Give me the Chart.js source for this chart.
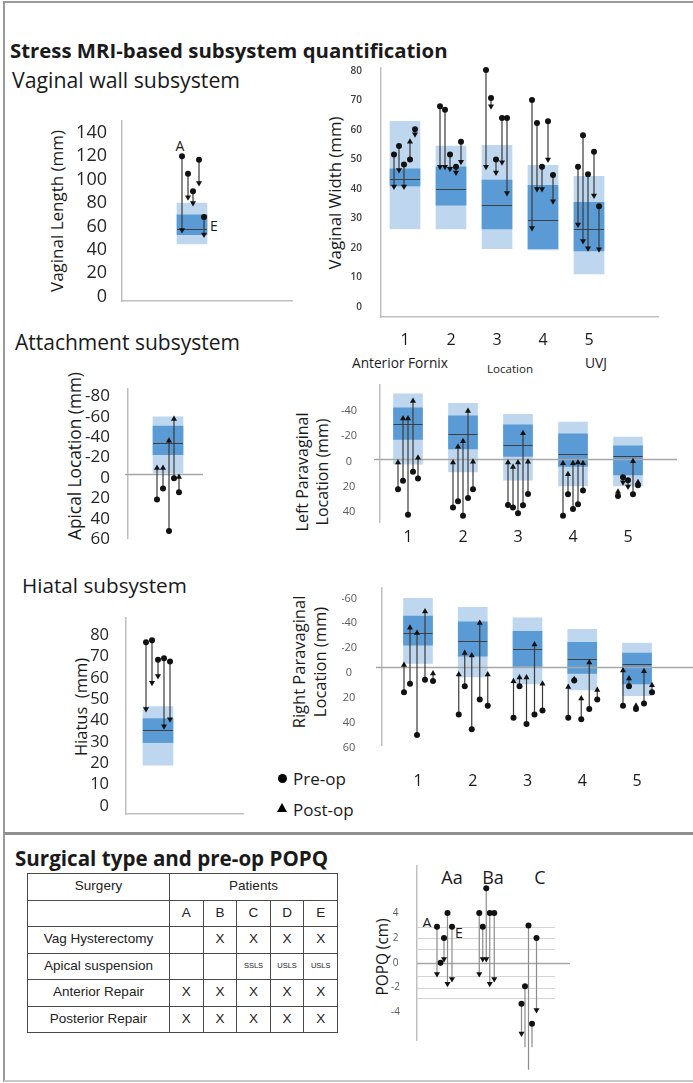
<!DOCTYPE html>
<html lang="en">
<head>
<meta charset="utf-8">
<title>Stress MRI-based subsystem quantification</title>
<script src="https://cdn.jsdelivr.net/npm/chart.js@4.4.1/dist/chart.umd.min.js"></script>
<style>
  html, body { margin: 0; padding: 0; }
  body { position: relative; width: 693px; height: 1083px; overflow: hidden; background: #fff; font-family: "Open Sans", sans-serif; color: #1a1a1a; }
  .panel { position: absolute; }
  .t { position: absolute; white-space: nowrap; transform: translateY(-50%); line-height: 1; }
  .c { position: absolute; white-space: nowrap; transform: translate(-50%, -50%); line-height: 1; }
  .v { position: absolute; white-space: nowrap; text-align: center; transform: translate(-50%, -50%) rotate(-90deg); line-height: 1.25; }
  .b { font-weight: 700; }
  .rule { position: absolute; }
  #surgery { position: absolute; left: 27px; top: 873px; width: 311px; height: 160px; border-collapse: collapse; table-layout: fixed; font-family: "Liberation Sans", Arial, sans-serif; font-size: 13.5px; color: #222; }
  #surgery td { border: 1.5px solid #4a4a4a; text-align: center; vertical-align: middle; padding: 0 0 2px 0; }
  #surgery td.s { font-size: 7.5px; }
  .dot { position: absolute; width: 9px; height: 9px; border-radius: 50%; background: #000; }
  .tri { position: absolute; width: 0; height: 0; border-left: 5px solid transparent; border-right: 5px solid transparent; border-bottom: 9px solid #000; }
</style>
</head>
<body>
<!-- frame -->
<div class="rule" style="left:4px;top:1px;width:689px;height:2px;background:#9a9a9a"></div>
<div class="rule" style="left:3px;top:1px;width:2px;height:1081px;background:#9a9a9a"></div>
<div class="rule" style="left:4px;top:832px;width:689px;height:2.5px;background:#8f8f8f"></div>
<div class="rule" style="left:4px;top:1080px;width:689px;height:2px;background:#c8c8c8"></div>

<!-- headings -->
<div class="t b" style="left:10px;top:50px" data-w="438">Stress MRI-based subsystem quantification</div>
<div class="t" style="left:12px;top:80px" data-w="228">Vaginal wall subsystem</div>
<div class="t" style="left:15px;top:343px" data-w="225">Attachment subsystem</div>
<div class="t" style="left:22px;top:585px" data-w="165">Hiatal subsystem</div>
<div class="t b" style="left:15px;top:858px" data-w="313">Surgical type and pre-op POPQ</div>

<!-- axis titles -->
<div class="v" style="left:57px;top:211px" data-w="162">Vaginal Length (mm)</div>
<div class="v" style="left:335px;top:193px" data-w="153">Vaginal Width (mm)</div>
<div class="v" style="left:75px;top:456px" data-w="168">Apical Location (mm)</div>
<div class="v" style="left:312px;top:472px;font-size:16px;line-height:20px">Left Paravaginal<br>Location (mm)</div>
<div class="v" style="left:309px;top:662px;font-size:16.5px;line-height:21px">Right Paravaginal<br>Location (mm)</div>
<div class="v" style="left:81px;top:707px;font-size:16.5px">Hiatus&nbsp; (mm)</div>
<div class="v" style="left:383px;top:957px" data-w="77">POPQ (cm)</div>

<!-- location captions under the width chart -->
<div class="t" style="left:352px;top:363px" data-w="96">Anterior Fornix</div>
<div class="t" style="left:487px;top:369px" data-w="46">Location</div>
<div class="t" style="left:585px;top:363px" data-w="22">UVJ</div>

<!-- patient / POPQ point labels -->
<div class="c" style="left:180px;top:146px;font-size:14px">A</div>
<div class="c" style="left:214px;top:226px;font-size:14px">E</div>
<div class="c" style="left:452px;top:877px;font-size:18px">Aa</div>
<div class="c" style="left:493px;top:877px;font-size:18px">Ba</div>
<div class="c" style="left:540px;top:877px;font-size:18px">C</div>
<div class="c" style="left:427px;top:922px;font-size:15px">A</div>
<div class="c" style="left:459px;top:933px;font-size:14px">E</div>

<!-- legend -->
<div class="dot" style="left:278px;top:774px"></div>
<div class="t" style="left:293px;top:778px;font-size:17px">Pre-op</div>
<div class="tri" style="left:277px;top:803px"></div>
<div class="t" style="left:293px;top:809px;font-size:17px">Post-op</div>

<div class="panel" id="cLength"><canvas></canvas></div>
<div class="panel" id="cWidth"><canvas></canvas></div>
<div class="panel" id="cApical"><canvas></canvas></div>
<div class="panel" id="cLeft"><canvas></canvas></div>
<div class="panel" id="cRight"><canvas></canvas></div>
<div class="panel" id="cHiatus"><canvas></canvas></div>
<div class="panel" id="cPopq"><canvas></canvas></div>

<table id="surgery"></table>

<script>
Chart.defaults.font.family = '"Open Sans", sans-serif';

// ---------- data ----------
// boxes: light = outer range, dark = inner range, median line; patients A..E left to right

// Vaginal wall subsystem - vaginal length (mm)
const lengthTicks = [0, 20, 40, 60, 80, 100, 120, 140];
const lengthLight = [[45, 80]];
const lengthDark = [[53, 70]];
const lengthMedian = [58];
const lengthPre = [[120, 105, 90, 117, 68]];
const lengthPost = [[57, 85, 80, 97, 53]];

// vaginal width (mm), locations 1 (anterior fornix) .. 5 (UVJ)
const locations = ['1', '2', '3', '4', '5'];
const widthTicks = [0, 10, 20, 30, 40, 50, 60, 70, 80];
const widthLight = [[26.5, 62.9], [26.5, 54.5], [19.8, 54.8], [19.4, 48], [11.2, 44.3]];
const widthDark = [[41, 46.8], [34.5, 47.5], [26.5, 43], [19.8, 41.2], [19, 35.5]];
const widthMedian = [43.3, 40, 34.5, 29.6, 26.5];
const widthPre = [[51.7, 54.5, 48.3, 50, 60.2], [68, 66.8, 51.7, 47.5, 56], [80.3, 70.8, 50, 64, 64], [70.1, 62.3, 47.5, 62.9, 44.7], [47.5, 58.2, 45, 52.6, 34.1]];
const widthPost = [[40.8, 46.4, 40.8, 56, 58.5], [47.5, 47.5, 46.8, 45.6, 49.2], [47.5, 68, 45.6, 49, 38.6], [26.8, 40, 40, 50, 35.8], [28, 22.4, 19.9, 37.8, 19.6]];

// Attachment subsystem - apical location (mm)
const apicalTicks = [-80, -60, -40, -20, 0, 20, 40, 60];
const apicalLight = [[-56, -1]];
const apicalDark = [[-47, -19]];
const apicalMedian = [-30];
const apicalPre = [[25, 14.4, 56, 4.3, 18]];
const apicalPost = [[-5.8, -5.8, -32.6, -54, 3]];

// left paravaginal location (mm)
const leftTicks = [-40, -20, 0, 20, 40];
const leftLight = [[-52, 3.8], [-44.5, 9.8], [-35.8, 16.3], [-29.5, 21], [-17.8, 21]];
const leftDark = [[-40.8, -15.8], [-34.5, -8.3], [-27.5, -2.5], [-20.3, 5.5], [-10.8, 12.3]];
const leftMedian = [-27.8, -20.3, -11.5, -4, -2.5];
const leftPre = [[23.5, 16.8, 43.8, 9.8, 15], [38, 33, 44.5, 30.5, 23.5], [36, 38, 42.5, 36.3, 27.3], [44.5, 27.5, 39.3, 35.5, 24.5], [29, 14, 16.5, 27.5, 20.5]];
const leftPost = [[2.5, -32.5, -32.5, -46.3, -1.3], [2.5, -10, -14.5, -38.3, 1.8], [2.5, 6, 2.5, -20.8, 1.8], [3, 11.8, 3, 2.5, 3], [25.5, 18, 21.5, 1.5, 18]];

// right paravaginal location (mm)
const rightTicks = [-60, -40, -20, 0, 20, 40, 60];
const rightLight = [[-55.7, -3.3], [-48.4, 7.6], [-40, 13.2], [-30.6, 18.2], [-19.7, 22.8]];
const rightDark = [[-41.3, -18], [-36.7, -9.1], [-29.1, -0.8], [-20.3, 4.8], [-11.6, 13.2]];
const rightMedian = [-28.1, -21, -15.2, -7.1, -2.8];
const rightPre = [[20, 13.2, 54.4, 10, 11], [38, 15.2, 49.9, 25.8, 30.9], [40.5, 15.2, 45.6, 38, 34.7], [40.5, 10.6, 41.8, 33.4, 25.8], [30.9, 15.2, 33.4, 29.1, 20]];
const rightPost = [[-2, -31.9, -27.8, -45, 4.8], [5.6, -11.6, -9.6, -35.7, 5.6], [11.1, 8.1, 8.1, -18.5, 13.2], [15.7, 9.5, 25, -4, 18.2], [2.5, 8.9, 30.9, 3, 14.4]];

// Hiatal subsystem - hiatus (mm)
const hiatusTicks = [0, 10, 20, 30, 40, 50, 60, 70, 80];
const hiatusLight = [[19.1, 46.6]];
const hiatusDark = [[29.7, 40.9]];
const hiatusMedian = [35.6];
const hiatusPre = [[76.7, 77.7, 68.5, 69.2, 67.7]];
const hiatusPost = [[45.4, 57.8, 60.9, 37.3, 40.6]];

// pre-op POPQ (cm), points Aa, Ba, C
const popqPoints = ['Aa', 'Ba', 'C'];
const popqTicks = [-4, -2, 0, 2, 4];
const popqRefLines = [2.9, 2, 1.1, -1.1, -2, -2.8];
const popqPre = [[2.9, 0, 2, 4, 2.9], [4, 2.9, 6, 4, 4], [-3.3, -1.9, 3, -4.9, 2]];
const popqPost = [[-0.9, 0, 0.3, -1.7, -1.3], [-0.9, 0.3, 0.3, -1.7, -1.3], [-5.7, -6.8, -8.6, -6.8, -3.8]];

// surgery table
const patientIds = ['A', 'B', 'C', 'D', 'E'];
const surgeryTypes = ['Vag Hysterectomy', 'Apical suspension', 'Anterior Repair', 'Posterior Repair'];
const surgeryMarks = [
  ['', 'X', 'X', 'X', 'X'],
  ['', '', 'SSLS', 'USLS', 'USLS'],
  ['X', 'X', 'X', 'X', 'X'],
  ['X', 'X', 'X', 'X', 'X']
];

// ---------- layout of each panel (page pixels) ----------
const lengthGeom = { left: 122, right: 292, top: 117, bottom: 313, zero: 308, ppu: 1.271, c0: 192, spacing: 46, bar: 30, offs: [-10, -4, 1, 7, 12], yw: 60, tickSize: 18, tickColor: '#262626', tickPad: 7, xBorder: true };
const widthGeom = { left: 381, right: 658, top: 65, bottom: 317, zero: 307, ppu: 2.99, c0: 405, spacing: 46, bar: 30, offs: [-11, -6, -1, 5, 10], yw: 40, xh: 30, xPad: 6, tickSize: 10, tickWeight: '600', tickColor: '#404040', tickPad: 11, xBorder: true };
const apicalGeom = { left: 128, right: 203, top: 383, bottom: 553, zero: 479.3, ppu: 1.157, reverse: true, c0: 168, spacing: 46, bar: 30, offs: [-11, -5, 1, 6, 11], yw: 60, tickSize: 17, tickColor: '#262626', tickPad: 10, labelOffset: 4, zeroFrom: 125, zeroTo: 203 };
const leftGeom = { left: 380, right: 677, top: 377, bottom: 522, zero: 456, ppu: 1.333, reverse: true, c0: 408, spacing: 55, bar: 29, offs: [-10, -5, 0, 5, 10], yw: 40, xh: 22, xPad: -2, tickSize: 11, tickColor: '#595959', tickPad: 15, crossAlign: 'center', labelOffset: 2, zeroFrom: 374, zeroTo: 677 };
const rightGeom = { left: 382, right: 693, top: 578, bottom: 745, zero: 662.7, ppu: 1.317, reverse: true, c0: 418, spacing: 54.75, bar: 29, offs: [-14, -8, -1, 7, 15], yw: 40, xh: 42, xPad: 19, padR: 0, tickSize: 11, tickColor: '#595959', tickPad: 17, crossAlign: 'center', labelOffset: 5.5, zeroFrom: 376, zeroTo: 693 };
const hiatusGeom = { left: 126, right: 243, top: 613, bottom: 827, zero: 818, ppu: 2.325, c0: 158, spacing: 46, bar: 30, offs: [-12, -6, 0, 6, 12], yw: 60, tickSize: 16.5, tickColor: '#262626', tickPad: 9, xBorder: true };
const popqGeom = { left: 417, right: 570, top: 865, bottom: 1040, zero: 962.3, ppu: 12.5, c0: 444, spacing: 42.25, offs: [-7, -3.5, 0, 3.5, 8], yw: 30, padB: 36, tickSize: 10, tickColor: '#595959', tickPad: 9, crossAlign: 'center', lineColor: '#8c8c8c', zeroFrom: 417, zeroTo: 570, refTo: 555 };

const LIGHT = '#bed7ef';
const DARK = '#5a9bd5';
const AXIS = '#bfbfbf';

// zero line / reference lines and median ticks, drawn over the boxes but under the patient arrows
function overlay(lines, medians, under) {
  function draw(chart) {
    const ctx = chart.ctx;
    const y = chart.scales.y;
    ctx.save();
    lines.forEach(l => {
      const py = Math.round(y.getPixelForValue(l.value)) + 0.5;
      ctx.strokeStyle = l.color;
      ctx.lineWidth = l.width;
      ctx.beginPath();
      ctx.moveTo(l.x0, py);
      ctx.lineTo(l.x1, py);
      ctx.stroke();
    });
    if (medians) {
      ctx.strokeStyle = '#3f3f3f';
      ctx.lineWidth = 1;
      chart.getDatasetMeta(1).data.forEach((bar, i) => {
        const py = Math.round(y.getPixelForValue(medians[i])) + 0.5;
        ctx.beginPath();
        ctx.moveTo(bar.x - bar.width / 2, py);
        ctx.lineTo(bar.x + bar.width / 2, py);
        ctx.stroke();
      });
    }
    ctx.restore();
  }
  return {
    id: 'overlay',
    beforeDatasetsDraw(chart) { if (under) draw(chart); },
    afterDatasetDraw(chart, args) { if (!under && args.index === 1) draw(chart); }
  };
}

function panel(id, g, d) {
  const padT = 14, padR = g.padR ?? 6, padB = g.padB ?? 6;
  const showX = !!(g.xLabels || g.xBorder);
  const xh = showX ? (g.xh || 0) : 0;
  const canvasLeft = g.left - g.yw;
  const wrap = document.getElementById(id);
  wrap.style.left = canvasLeft + 'px';
  wrap.style.top = (g.top - padT) + 'px';
  wrap.style.width = (g.right - g.left + g.yw + padR) + 'px';
  wrap.style.height = (g.bottom - g.top + padT + xh + padB) + 'px';

  const ymin = g.reverse ? -(g.zero - g.top) / g.ppu : -(g.bottom - g.zero) / g.ppu;
  const ymax = g.reverse ? (g.bottom - g.zero) / g.ppu : (g.zero - g.top) / g.ppu;
  const xmin = 1 - (g.c0 - g.left) / g.spacing;
  const xmax = 1 + (g.right - g.c0) / g.spacing;

  const datasets = [];
  if (d.light) {
    datasets.push({ type: 'bar', data: d.light.map((r, i) => ({ x: i + 1, y: r })), backgroundColor: LIGHT, barThickness: g.bar, grouped: false, order: 3 });
    datasets.push({ type: 'bar', data: d.dark.map((r, i) => ({ x: i + 1, y: r })), backgroundColor: DARK, barThickness: g.bar, grouped: false, order: 2 });
  }
  d.pre.forEach((group, i) => group.forEach((pre, p) => {
    const post = d.post[i][p];
    const x = i + 1 + g.offs[p] / g.spacing;
    const pointsDown = (post <= pre) !== !!g.reverse;
    datasets.push({
      type: 'line',
      data: [{ x, y: pre }, { x, y: post }],
      borderColor: g.lineColor || '#3a3a3a',
      borderWidth: 1.2,
      pointStyle: ['circle', 'triangle'],
      rotation: [0, pointsDown ? 180 : 0],
      pointRadius: [3, 3.5],
      pointBackgroundColor: '#111',
      pointBorderColor: '#111',
      pointBorderWidth: 0,
      clip: false,
      order: 1
    });
  }));

  const lines = [];
  (d.refs || []).forEach(v => lines.push({ value: v, x0: g.left - canvasLeft, x1: g.refTo - canvasLeft, color: '#d4d4d4', width: 1 }));
  if (g.zeroFrom != null) lines.push({ value: 0, x0: g.zeroFrom - canvasLeft, x1: g.zeroTo - canvasLeft, color: '#a6a6a6', width: 1.5 });

  return new Chart(wrap.querySelector('canvas'), {
    type: 'bar',
    data: { datasets },
    options: {
      responsive: true,
      maintainAspectRatio: false,
      animation: false,
      layout: { autoPadding: false, padding: { left: 0, top: padT, right: padR, bottom: padB } },
      plugins: { legend: { display: false }, tooltip: { enabled: false } },
      scales: {
        x: {
          type: 'linear', min: xmin, max: xmax, offset: false, display: showX,
          grid: { display: false },
          border: { display: !!g.xBorder, color: AXIS, width: 1.5 },
          ticks: {
            display: !!g.xLabels, padding: g.xPad || 0, autoSkip: false, maxRotation: 0,
            font: { size: 16 }, color: '#1a1a1a',
            callback: v => (g.xLabels ? g.xLabels[v - 1] : '')
          },
          afterBuildTicks: s => { s.ticks = g.xLabels ? g.xLabels.map((_, i) => ({ value: i + 1 })) : []; },
          afterFit: s => { s.height = xh; }
        },
        y: {
          type: 'linear', min: ymin, max: ymax, reverse: !!g.reverse,
          grid: { display: false },
          border: { display: true, color: AXIS, width: 1.5 },
          ticks: {
            font: { size: g.tickSize, weight: g.tickWeight || 'normal' }, color: g.tickColor,
            padding: g.tickPad, labelOffset: g.labelOffset || 0, crossAlign: g.crossAlign || 'near', autoSkip: false
          },
          afterBuildTicks: s => { s.ticks = d.ticks.map(v => ({ value: v })); },
          afterFit: s => { s.width = g.yw; }
        }
      }
    },
    plugins: [overlay(lines, d.median, !d.light)]
  });
}

// fit heading / axis title widths
document.querySelectorAll('[data-w]').forEach(el => {
  el.style.fontSize = '100px';
  const w = el.offsetWidth;
  el.style.fontSize = (100 * Number(el.dataset.w) / w).toFixed(2) + 'px';
});

widthGeom.xLabels = locations;
leftGeom.xLabels = locations;
rightGeom.xLabels = locations;

panel('cLength', lengthGeom, { ticks: lengthTicks, light: lengthLight, dark: lengthDark, median: lengthMedian, pre: lengthPre, post: lengthPost });
panel('cWidth', widthGeom, { ticks: widthTicks, light: widthLight, dark: widthDark, median: widthMedian, pre: widthPre, post: widthPost });
panel('cApical', apicalGeom, { ticks: apicalTicks, light: apicalLight, dark: apicalDark, median: apicalMedian, pre: apicalPre, post: apicalPost });
panel('cLeft', leftGeom, { ticks: leftTicks, light: leftLight, dark: leftDark, median: leftMedian, pre: leftPre, post: leftPost });
panel('cRight', rightGeom, { ticks: rightTicks, light: rightLight, dark: rightDark, median: rightMedian, pre: rightPre, post: rightPost });
panel('cHiatus', hiatusGeom, { ticks: hiatusTicks, light: hiatusLight, dark: hiatusDark, median: hiatusMedian, pre: hiatusPre, post: hiatusPost });
panel('cPopq', popqGeom, { ticks: popqTicks, refs: popqRefLines, pre: popqPre, post: popqPost });

// surgery table
let html = '<colgroup><col style="width:142px">' + patientIds.map(() => '<col>').join('') + '</colgroup>';
html += '<tr><td>Surgery</td><td colspan="' + patientIds.length + '">Patients</td></tr>';
html += '<tr><td></td>' + patientIds.map(p => '<td>' + p + '</td>').join('') + '</tr>';
surgeryTypes.forEach((s, i) => {
  html += '<tr><td>' + s + '</td>' + surgeryMarks[i].map(m => '<td' + (m.length > 1 ? ' class="s"' : '') + '>' + m + '</td>').join('') + '</tr>';
});
document.getElementById('surgery').innerHTML = html;
</script>
</body>
</html>
